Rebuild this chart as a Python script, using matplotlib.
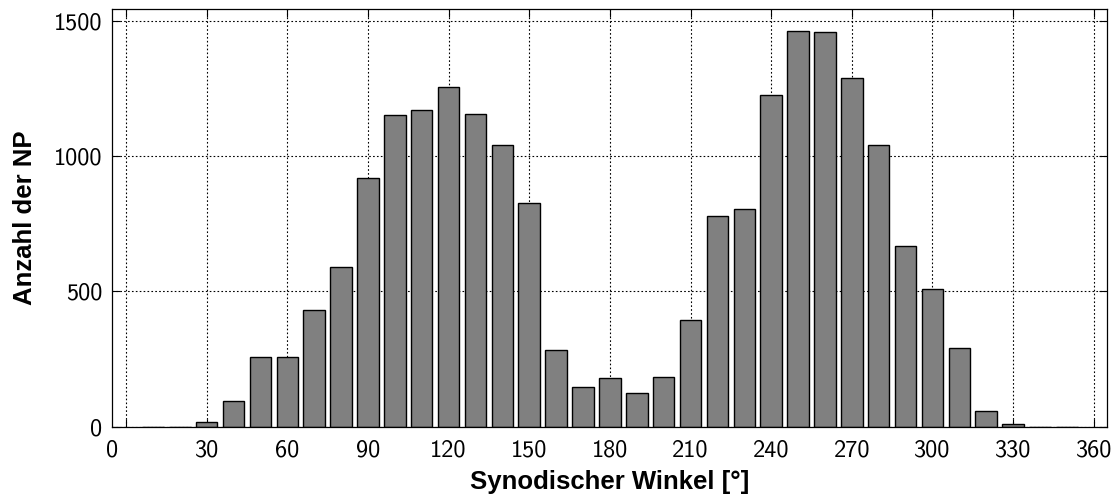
import matplotlib
matplotlib.use("Agg")
import matplotlib.pyplot as plt
import numpy as np

# Anzahl der NP je 10-Grad-Klasse des synodischen Winkels
winkel = [10, 20, 30, 40, 50, 60, 70, 80, 90, 100, 110, 120, 130, 140, 150,
          160, 170, 180, 190, 200, 210, 220, 230, 240, 250, 260, 270, 280,
          290, 300, 310, 320, 330, 340, 350]
anzahl = [0, 0, 18, 96, 256, 256, 430, 590, 918, 1152, 1169, 1254, 1157,
          1041, 825, 284, 147, 179, 123, 184, 393, 778, 804, 1226, 1461,
          1459, 1289, 1041, 666, 510, 290, 58, 10, 0, 0]

xticks = list(range(0, 361, 30))
yticks = [0, 500, 1000, 1500]

tick_font = "cmss10"
label_font = "Liberation Sans"

fig = plt.figure(figsize=(11.17, 5.04), dpi=100)
ax = fig.add_axes([0.1003, 0.1534, 0.8907, 0.8287])

ax.bar(winkel, anzahl, width=8, color="#808080", edgecolor="black",
       linewidth=1.0, zorder=3)

ax.set_xlim(-5.2, 364.9)
ax.set_ylim(0, 1543)

ax.set_xticks(xticks, labels=[""] + [str(t) for t in xticks[1:]])
# die Null sitzt am linken Achsenrand
ax.set_xticks([-5.2], labels=["0"], minor=True)
ax.set_yticks(yticks, labels=[str(t) for t in yticks])

ax.tick_params(which="major", direction="in", length=6, width=0.8,
               top=True, right=True, labelsize=17.5, pad=7)
ax.tick_params(which="minor", length=0, labelsize=17.5, pad=7)
ax.tick_params(axis="x", which="both", pad=9)
for lbl in ax.get_xticklabels(which="both") + ax.get_yticklabels():
    lbl.set_fontfamily(tick_font)

ax.grid(True, which="major", linestyle=(0, (1.5, 2)), color="black",
        linewidth=0.8, zorder=1)

for s in ax.spines.values():
    s.set_linewidth(0.9)
    s.set_zorder(4)

ax.set_xlabel("Synodischer Winkel [°]", fontsize=18.5, fontweight="bold",
              fontfamily=label_font, labelpad=6)
ax.set_ylabel("Anzahl der NP", fontsize=18.5, fontweight="bold",
              fontfamily=label_font, labelpad=12)

fig.savefig("out.png", dpi=100)
